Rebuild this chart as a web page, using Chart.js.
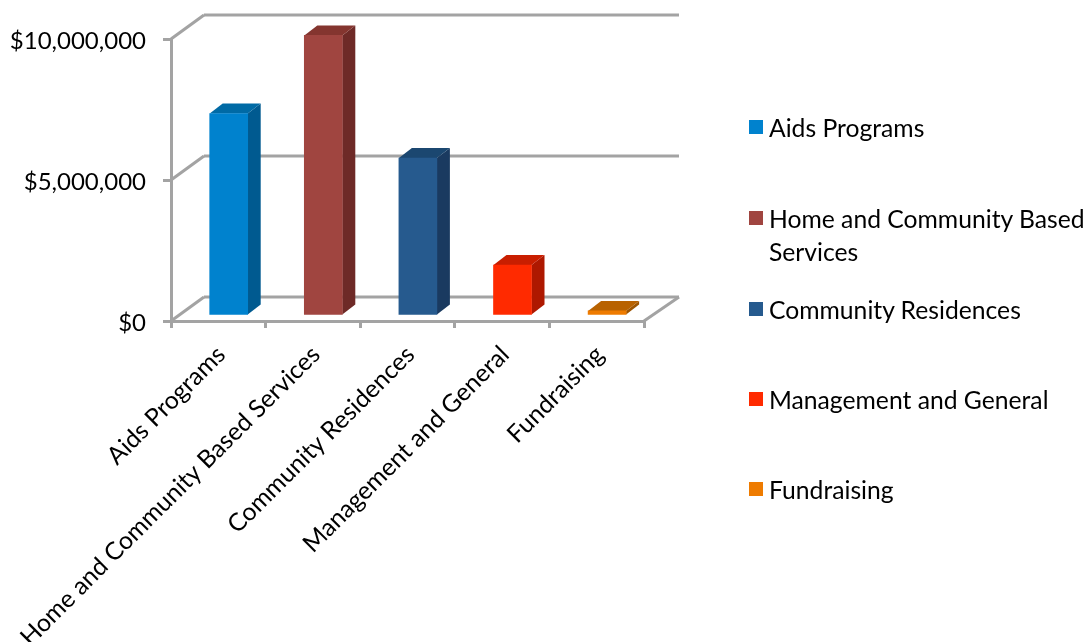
<!DOCTYPE html>
<html>
<head>
<meta charset="utf-8">
<script src="https://cdn.jsdelivr.net/npm/chart.js@4"></script>
<style>
  html, body { margin: 0; padding: 0; background: #fff; overflow: hidden; }
  #wrap { position: relative; width: 1088px; height: 642px; }
  #legend div.item { position: absolute; left: 769px; font: 24.7px/33px Lato, sans-serif; color: #000; width: 319px; }
  #legend span.box { position: absolute; left: -20px; top: 9px; width: 14px; height: 14px; }
</style>
</head>
<body>
<div id="wrap">
  <canvas id="myChart" width="1088" height="642"></canvas>
  <div id="legend"></div>
</div>
<script>
const categories = ['Aids Programs', 'Home and Community Based Services', 'Community Residences', 'Management and General', 'Fundraising'];
const amounts = [7180000, 9950000, 5600000, 1810000, 180000];
const yTicks = [0, 5000000, 10000000];

const faceColors = ['#0082ce', '#a04540', '#265a8e', '#ff2a00', '#ee7b00'];
const sideColors = ['#005a90', '#6e2a27', '#1a3a60', '#ae1800', '#9c5400'];
const topColors = ['#006aa5', '#84352f', '#1b4770', '#c91e00', '#b86200'];
const legendTops = [111, 202, 293, 383, 473];

const gridColor = '#a3a3a3';
// floor/wall depth of the fake 3d box, and where the bars sit inside it
const wallX = 33, wallY = 24;
const barShiftX = 10.4, barShiftY = 5;
const barDepthX = 13, barDepthY = 10;

function line(c, x1, y1, x2, y2) {
  c.beginPath();
  c.moveTo(x1, y1);
  c.lineTo(x2, y2);
  c.stroke();
}

function poly(c, color, pts) {
  c.fillStyle = color;
  c.beginPath();
  pts.forEach((p, i) => i ? c.lineTo(p[0], p[1]) : c.moveTo(p[0], p[1]));
  c.closePath();
  c.fill();
}

const box3d = {
  id: 'box3d',
  beforeDatasetsDraw(chart) {
    const c = chart.ctx, a = chart.chartArea, y = chart.scales.y;
    c.save();
    c.strokeStyle = gridColor;
    c.lineWidth = 3;
    yTicks.forEach(t => {
      const py = y.getPixelForValue(t);
      line(c, a.left, py, a.left + wallX, py - wallY);
      line(c, a.left + wallX, py - wallY, a.right + wallX + 2, py - wallY);
    });
    line(c, a.right, a.bottom, a.right + wallX + 2, a.bottom - wallY);

    // side and top faces of each bar, from the bar elements chart.js laid out
    chart.getDatasetMeta(0).data.forEach((bar, i) => {
      const l = bar.x - bar.width / 2 + barShiftX, r = bar.x + bar.width / 2 + barShiftX;
      const t = bar.y - barShiftY, b = bar.base - barShiftY;
      poly(c, sideColors[i], [[r, t], [r + barDepthX, t - barDepthY], [r + barDepthX, b - barDepthY], [r, b]]);
      poly(c, topColors[i], [[l, t], [l + barDepthX, t - barDepthY], [r + barDepthX, t - barDepthY], [r, t]]);
    });
    c.restore();
  },
  beforeDatasetDraw(chart) {
    chart.ctx.save();
    chart.ctx.translate(barShiftX, -barShiftY);
  },
  afterDatasetDraw(chart) {
    chart.ctx.restore();
  }
};

const ctx = document.getElementById('myChart');
new Chart(ctx, {
  type: 'bar',
  data: {
    labels: categories,
    datasets: [{
      data: amounts,
      backgroundColor: faceColors,
      barThickness: 38,
      clip: false
    }]
  },
  options: {
    responsive: false,
    animation: false,
    layout: { padding: { top: 39, right: 444, bottom: 0, left: 0 } },
    plugins: { legend: { display: false }, title: { display: false } },
    scales: {
      x: {
        afterFit(scale) { scale.height = 321; },
        grid: { drawOnChartArea: false, color: gridColor, lineWidth: 3, tickLength: 7 },
        border: { color: gridColor, width: 3 },
        ticks: {
          autoSkip: false,
          minRotation: 45,
          maxRotation: 45,
          padding: 12,
          labelOffset: 3,
          color: '#000',
          font: { family: 'Lato', size: 24.7 }
        }
      },
      y: {
        min: 0,
        max: 10000000,
        afterFit(scale) { scale.width = 171; },
        afterBuildTicks(scale) { scale.ticks = yTicks.map(v => ({ value: v })); },
        grid: { drawOnChartArea: false, color: gridColor, lineWidth: 3, tickLength: 8 },
        border: { color: gridColor, width: 3 },
        ticks: {
          padding: 17,
          labelOffset: 2,
          color: '#000',
          font: { family: 'Lato', size: 24 },
          callback: v => '$' + v.toLocaleString('en-US')
        }
      }
    }
  },
  plugins: [box3d]
});

// legend is plain html, the long entry has to wrap like the original
const legend = document.getElementById('legend');
categories.forEach((name, i) => {
  const item = document.createElement('div');
  item.className = 'item';
  item.style.top = legendTops[i] + 'px';
  const box = document.createElement('span');
  box.className = 'box';
  box.style.background = faceColors[i];
  item.appendChild(box);
  item.appendChild(document.createTextNode(name));
  legend.appendChild(item);
});
</script>
</body>
</html>
